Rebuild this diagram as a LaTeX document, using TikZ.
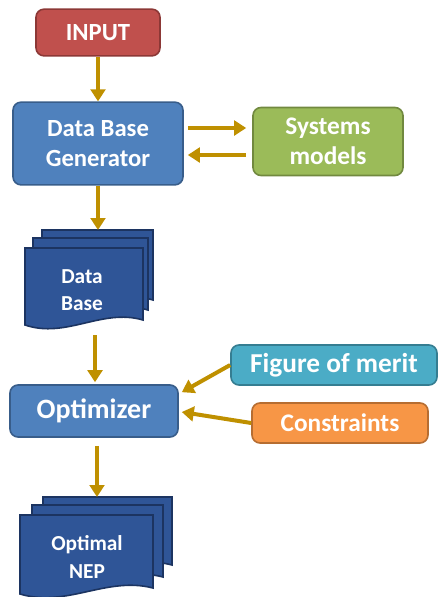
\documentclass[tikz,border=0pt]{standalone}
\usepackage{fontspec}
\setmainfont{Carlito}
\usetikzlibrary{arrows.meta,calc}

\definecolor{inred}{HTML}{C0504D}
\definecolor{inredline}{HTML}{8C3836}
\definecolor{procblue}{HTML}{4F81BD}
\definecolor{procblueline}{HTML}{385D8A}
\definecolor{modgreen}{HTML}{9BBB59}
\definecolor{modgreenline}{HTML}{71893F}
\definecolor{meritteal}{HTML}{4BACC6}
\definecolor{meritealline}{HTML}{357D91}
\definecolor{conorange}{HTML}{F79646}
\definecolor{conorangeline}{HTML}{B66D31}
\definecolor{sheetblue}{HTML}{2F5597}
\definecolor{sheetline}{HTML}{1C3461}
\definecolor{flowgold}{HTML}{BF9000}

% one sheet of a document stack: left, top, right, bottom right, bottom left
\newcommand{\docsheet}[5]{%
  \draw[sheet] (#1,#2) -- (#3,#2) -- (#3,#4)
    .. controls ($(#1,#4)!0.65!(#3,#4)+(0,-12)$) and ($(#1,#5)!0.35!(#3,#5)+(0,14)$) .. (#1,#5) -- cycle;}

\begin{document}
\begin{tikzpicture}[x=0.75pt, y=-0.75pt,
  box/.style={rounded corners=6pt, line width=1.2pt, text=white, align=center,
    inner sep=0pt, font=\bfseries\fontsize{18.5}{22.5}\selectfont},
  flow/.style={draw=flowgold, line width=3pt, -{Triangle[width=11pt,length=9pt]}},
  sheet/.style={fill=sheetblue, draw=sheetline, line width=1.2pt},
  sheettext/.style={text=white, align=center, font=\bfseries\fontsize{16}{20}\selectfont}]
\useasboundingbox (0,0) rectangle (437,597);

% boxes
\node[box, fill=inred, draw=inredline, minimum width=93pt, minimum height=35pt] (in) at (98,32.5) {INPUT};
\node[box, fill=procblue, draw=procblueline, minimum width=127.5pt, minimum height=62pt] (dbg) at (98,143.5) {Data Base\\Generator};
\node[box, fill=modgreen, draw=modgreenline, minimum width=112.5pt, minimum height=51pt,
  font=\bfseries\fontsize{19}{22.5}\selectfont] (sys) at (328,141.5) {Systems\\models};
\node[box, fill=procblue, draw=procblueline, minimum width=126pt, minimum height=39pt,
  font=\bfseries\fontsize{21}{24}\selectfont] (opt) at (94,411) {Optimizer};
\node[box, fill=meritteal, draw=meritealline, minimum width=154.5pt, minimum height=30pt,
  font=\bfseries\fontsize{20.5}{24}\selectfont] (fom) at (334,365) {Figure of merit};
\node[box, fill=conorange, draw=conorangeline, minimum width=132pt, minimum height=30pt,
  font=\bfseries\fontsize{19}{22}\selectfont] (con) at (340,423) {Constraints};

% data base stack
\docsheet{42}{230}{153}{300}{305}
\docsheet{33}{238}{148}{310}{315}
\docsheet{25}{248}{143}{320}{325}
\node[sheettext] (db) at (82,290) {Data\\Base};
\coordinate (dbtop) at (98,230);
\coordinate (dbbot) at (95,335);

% optimal NEP stack
\docsheet{43}{497}{172}{565}{570}
\docsheet{32}{505}{163}{577}{582}
\docsheet{20}{515}{153}{588}{594}
\node[sheettext, font=\bfseries\fontsize{16}{21}\selectfont] (nep) at (87,557) {Optimal\\NEP};
\coordinate (neptop) at (97,497);

% connectors
\draw[flow] (in) -- (dbg);
\draw[flow] ($(dbg.east |- sys.west)+(4,-13.5)$) -- ($(sys.west)+(-6,-13.5)$);
\draw[flow] ($(sys.west)+(-6,13.5)$) -- ($(dbg.east |- sys.west)+(4,13.5)$);
\draw[flow] (dbg.south) -- (dbtop);
\draw[flow, shorten >=1.5pt] (dbbot) -- (dbbot |- opt.north);
\draw[flow] (fom.west) -- ($(opt.north east)+(3,8)$);
\draw[flow] (con.west) -- ($(opt.east)+(3,1)$);
\draw[flow] ($(opt.south)+(3,8)$) -- (neptop);
\end{tikzpicture}
\end{document}
